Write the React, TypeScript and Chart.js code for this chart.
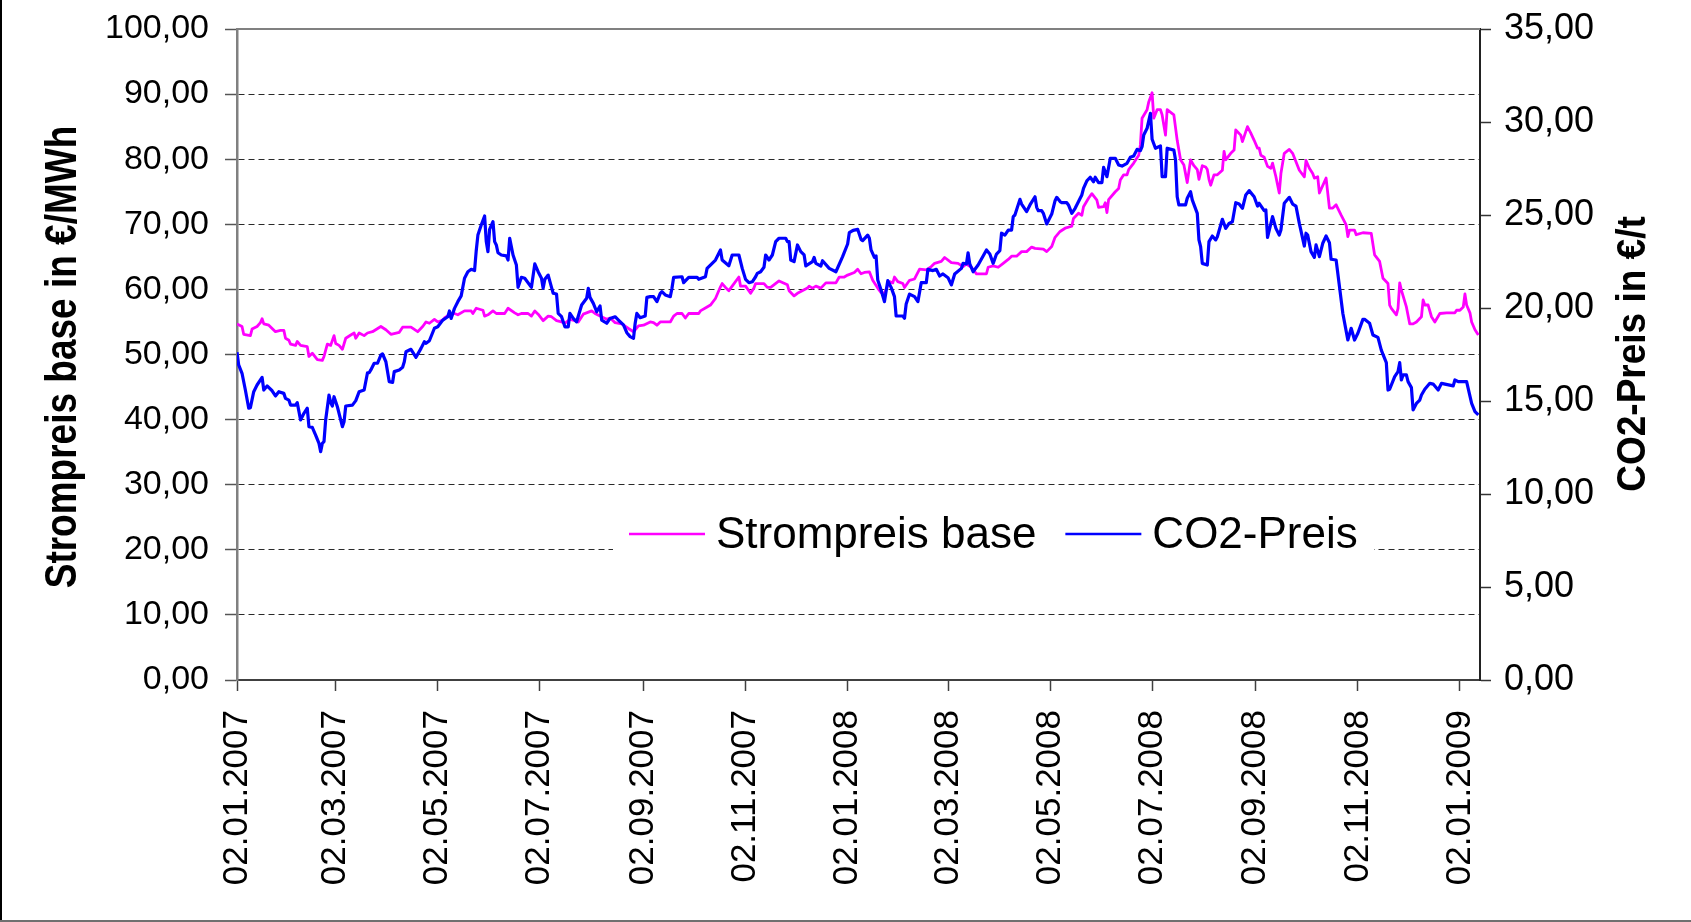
import React, { useEffect, useRef } from "react";
import { Chart, registerables } from "chart.js";

Chart.register(...registerables);

// Dates: tick labels on the x axis (dd.mm.yyyy) and the last day of the axis
const startDate = "02.01.2007";
const endDate = "14.01.2009";
const xTickLabels = [
  "02.01.2007", "02.03.2007", "02.05.2007", "02.07.2007", "02.09.2007", "02.11.2007",
  "02.01.2008", "02.03.2008", "02.05.2008", "02.07.2008", "02.09.2008", "02.11.2008",
  "02.01.2009",
];

// Strompreis base (€/MWh) — days after 02.01.2007 and prices
const stromDays = [
  0, 3, 4, 8, 9, 12, 14, 15, 16, 19, 23, 26, 28, 29, 31, 32, 35, 36, 38, 42,
  43, 45, 48, 51, 52, 54, 56, 58, 59, 61, 63, 65, 68, 70, 71, 73, 76, 78, 81, 86,
  89, 92, 97, 99, 104, 108, 111, 113, 115, 118, 120, 123,
  124, 127, 130, 132, 136, 140, 141, 143, 147, 148, 150, 153, 155, 160, 162, 166, 168, 170, 174, 176,
  178, 180, 183, 186, 188, 191, 194, 196, 199, 202, 204, 207, 212, 214, 217, 221, 223, 226, 230, 234,
  237, 240, 243, 247,
  249, 251, 253, 259, 261, 263, 266, 268, 270, 276, 277, 281, 283, 286, 289, 290, 292, 294, 296, 300,
  301, 304, 307, 309, 310, 315, 317, 319, 324, 329, 330, 333, 335, 341, 342, 344, 346, 349, 352, 358,
  360, 363, 365, 369,
  371, 373, 375, 378, 380, 383, 385, 387, 390, 392, 393, 395, 398, 399, 402, 405, 408, 412, 415, 417,
  421, 423, 427, 431, 434, 436, 439, 442, 448, 449, 452, 455, 458, 461, 463, 466, 469, 472, 475, 477,
  482, 484, 487, 489, 492,
  495, 499, 500, 503, 505, 506, 509, 511, 514, 515, 518, 519, 520, 521, 525, 527, 528, 530, 532, 533,
  536, 539, 540, 541, 544, 545, 547, 548, 550, 552, 553, 555, 556, 560, 562, 564, 566, 568, 570, 572,
  574, 575, 577, 579, 580, 581, 582, 584, 586, 589, 590, 591, 594, 596, 597, 600, 601, 604, 606, 608,
  610, 611, 612, 614,
  616, 618, 619, 621, 623, 624, 626, 629, 631, 633, 635, 638, 639, 641, 643, 644, 646, 647, 651, 653,
  655, 657, 660, 663, 664, 665, 668, 669, 673, 678, 680, 683, 685, 688, 689, 690, 693, 694, 695, 696,
  699, 701, 703, 705, 708, 709, 710, 712, 714, 716, 719, 723, 728, 729, 731, 733, 734, 735, 737, 738,
  740, 742,
];
const stromValues = [
  54.7, 54.3, 53.1, 52.9, 53.9, 54.3, 54.9, 55.5, 54.7, 54.5, 53.5, 53.7, 53.7, 52.5, 52.2, 51.6, 51.4, 52.0, 51.4, 51.2,
  49.7, 50.2, 49.2, 49.1, 49.7, 51.6, 51.4, 52.9, 51.7, 51.4, 50.8, 52.5, 53.0, 53.3, 52.5, 53.3, 52.9, 53.3, 53.5, 54.3,
  53.8, 53.1, 53.4, 54.2, 54.2, 53.5, 54.3, 55.0, 54.8, 55.4, 55.0, 55.3,
  55.6, 56.1, 56.3, 56.1, 56.7, 56.7, 56.3, 57.1, 56.8, 55.9, 56.1, 56.7, 56.3, 56.3, 57.1, 56.4, 56.1, 56.3, 56.3, 55.9,
  56.7, 56.2, 55.2, 55.9, 55.8, 55.2, 55.0, 54.8, 55.4, 55.2, 55.0, 56.2, 56.7, 56.3, 55.9, 55.4, 55.6, 54.9, 54.7, 54.0,
  53.5, 54.4, 54.5, 55.0,
  54.9, 54.5, 55.0, 55.0, 55.9, 56.3, 56.3, 55.6, 56.3, 56.3, 56.7, 57.3, 57.6, 58.6, 60.4, 60.9, 60.3, 59.8, 60.5, 61.9,
  60.5, 60.5, 59.4, 60.2, 60.9, 60.9, 60.3, 60.3, 61.3, 60.7, 59.8, 59.0, 59.4, 60.2, 60.5, 60.2, 60.5, 60.2, 61.0, 61.0,
  61.9, 61.9, 62.2, 62.6,
  63.1, 62.4, 62.6, 62.7, 61.4, 60.2, 59.5, 59.4, 61.2, 61.0, 61.9, 61.2, 60.9, 60.3, 61.4, 61.6, 63.1, 63.0, 63.5, 64.0,
  64.3, 64.9, 64.1, 64.0, 63.5, 63.9, 63.4, 62.4, 62.4, 63.4, 63.6, 63.4, 64.0, 64.6, 65.1, 65.1, 65.8, 65.8, 66.5, 66.3,
  66.2, 65.8, 66.6, 68.0, 68.9,
  69.4, 69.7, 70.9, 71.7, 71.4, 72.7, 74.0, 74.7, 73.7, 72.6, 72.7, 73.3, 71.8, 73.8, 75.0, 75.5, 76.8, 77.6, 77.6, 78.4,
  79.4, 80.6, 82.2, 86.3, 87.6, 88.8, 90.2, 86.3, 87.6, 87.6, 86.8, 83.7, 87.6, 86.8, 82.9, 79.9, 79.1, 76.4, 79.9, 79.0,
  78.4, 76.9, 79.0, 78.8, 78.4, 76.9, 76.0, 77.6, 77.6, 78.3, 81.2, 79.9, 80.9, 81.4, 84.5, 83.7, 82.7, 85.0, 84.0, 82.9,
  81.7, 81.7, 80.6, 80.3,
  78.9, 78.6, 79.4, 77.3, 74.8, 77.8, 80.9, 81.5, 80.9, 79.6, 78.3, 77.3, 79.8, 78.6, 77.8, 77.1, 77.3, 74.8, 77.1, 72.5,
  72.5, 73.0, 71.4, 69.9, 68.1, 69.1, 69.1, 68.4, 68.7, 68.6, 65.3, 64.3, 61.7, 60.9, 57.6, 57.1, 56.1, 57.1, 61.0, 59.9,
  57.3, 54.7, 54.7, 55.0, 55.8, 58.4, 57.6, 57.6, 55.8, 55.0, 56.3, 56.4, 56.4, 56.8, 56.8, 57.3, 59.3, 57.6, 56.4, 55.0,
  53.8, 53.0,
];

// CO2-Preis (€/t) — days after 02.01.2007 and prices
const co2Days = [
  0, 1, 3, 5, 7, 8, 10, 12, 15, 16, 18, 21, 23, 25, 28, 29, 31, 32, 35, 36,
  38, 40, 42, 43, 45, 47, 49, 50, 51, 52, 53, 55, 56, 57, 58, 60, 63, 64, 65, 69,
  71, 73, 76, 78, 79, 80, 82, 84, 86, 87, 89, 91, 93, 94, 97, 99, 100, 101, 104, 107,
  110, 112, 113, 115, 118, 120, 123,
  126, 127, 128, 130, 132, 134, 136, 138, 140, 142, 143, 144, 146, 148, 149, 150, 151, 153, 154, 155,
  156, 158, 161, 162, 163, 165, 167, 168, 170, 172, 176, 178, 180, 182, 183, 184, 186, 188, 189, 191,
  192, 194, 196, 198, 199, 201, 203, 206, 209, 210, 211, 213, 215, 217, 218, 221, 223, 226, 228, 231,
  233, 235, 237, 238, 239, 241, 244, 245, 247,
  249, 251, 253, 254, 256, 259, 260, 261, 266, 267, 270, 275, 276, 280, 281, 286, 289, 290, 294, 296,
  300, 302, 304, 306, 308, 310, 311, 313, 315, 316, 318, 320, 322, 324, 328, 329, 330, 331, 333, 335,
  337, 339, 340, 344, 345, 346, 349, 350, 354, 358, 362, 365, 366, 368, 369,
  371, 373, 374, 377, 378, 379, 381, 382, 383, 385, 387, 389, 391, 393, 394, 398, 399, 400, 402, 405,
  407, 409, 412, 413, 416, 418, 420, 422, 425, 427, 429, 433, 434, 436, 437, 438, 440, 443, 448, 450,
  452, 454, 456, 457, 459, 461, 463, 464, 465, 468, 469, 472, 474, 477, 478, 479, 481, 482, 484, 487,
  489, 490, 492,
  493, 496, 497, 499, 501, 504, 505, 506, 508, 510, 512, 513, 515, 517, 518, 520, 522, 525, 527, 529,
  532, 534, 536, 538, 540, 541, 542, 544, 546, 547, 549, 552, 553, 555, 556, 560, 561, 562, 563, 567,
  568, 570, 571, 574, 575, 576, 577, 580, 581, 583, 585, 586, 589, 591, 593, 595, 597, 599, 601, 603,
  605, 608, 610, 611, 614,
  615, 616, 619, 621, 623, 624, 626, 629, 631, 633, 635, 638, 639, 640, 642, 644, 645, 647, 649, 651,
  653, 654, 657, 659, 661, 664, 666, 668, 670, 673, 674, 677, 679, 682, 684, 687, 688, 689, 692, 694,
  695, 696, 697, 699, 700, 702, 703, 705, 707, 708, 710, 713, 715, 718, 720, 727, 728, 730, 735, 738,
  740, 742,
];
const co2Values = [
  17.62, 16.94, 16.49, 15.59, 14.61, 14.64, 15.5, 15.86, 16.27, 15.59, 15.81, 15.55, 15.27, 15.5, 15.41, 15.14, 15.05, 14.78, 14.78, 14.91,
  13.98, 14.34, 14.61, 13.62, 13.58, 13.17, 12.72, 12.28, 12.72, 12.81, 13.98, 15.32, 14.91, 14.73, 15.23, 14.69, 13.62, 13.89, 14.73, 14.78,
  15.02, 15.5, 15.59, 16.52, 16.52, 16.67, 17.03, 17.03, 17.47, 17.53, 17.11, 16.04, 16.0, 16.58, 16.67, 16.81, 17.11, 17.65, 17.78, 17.35,
  17.83, 18.19, 18.1, 18.24, 18.91, 18.99, 19.35,
  19.53, 19.84, 19.44, 19.98, 20.34, 20.65, 21.6, 21.95, 22.08, 22.01, 23.08, 23.92, 24.46, 24.95, 23.57, 23.03, 24.23, 24.64, 23.57, 23.39,
  22.97, 22.85, 22.8, 22.58, 23.75, 22.85, 22.31, 21.11, 21.65, 21.6, 21.11, 22.37, 21.95, 21.6, 21.06, 21.54, 21.77, 21.11, 20.79, 20.75,
  19.71, 19.53, 18.99, 18.99, 19.71, 19.44, 19.26, 20.16, 20.52, 21.06, 20.57, 20.25, 19.8, 20.11, 19.35, 19.18, 19.44, 19.53, 19.35, 19.09,
  18.67, 18.46, 18.37, 19.18, 19.71, 19.48, 19.57, 20.57, 20.61,
  20.61, 20.34, 20.79, 20.88, 20.7, 20.61, 21.06, 21.65, 21.68, 21.36, 21.65, 21.65, 21.54, 21.68, 22.13, 22.58, 23.12, 22.58, 22.27, 22.85,
  22.85, 22.13, 21.54, 21.36, 21.41, 21.68, 21.86, 21.95, 22.19, 22.85, 22.58, 22.85, 23.57, 23.75, 23.75, 23.57, 23.57, 22.58, 22.49, 23.39,
  23.03, 22.85, 22.26, 22.49, 22.72, 22.4, 22.26, 22.54, 22.13, 21.95, 22.76, 23.44, 24.05, 24.16, 24.19,
  24.23, 23.69, 23.62, 23.92, 23.75, 23.12, 22.72, 22.8, 21.51, 20.97, 20.34, 21.47, 21.11, 20.61, 19.57, 19.57, 19.45, 20.22, 20.75, 20.61,
  20.34, 21.36, 21.36, 22.08, 22.01, 22.08, 21.72, 21.83, 21.63, 21.24, 21.83, 22.13, 22.4, 22.37, 22.97, 22.37, 21.95, 22.31, 23.12, 22.9,
  22.4, 22.9, 23.08, 24.02, 23.92, 24.19, 24.19, 24.91, 25.0, 25.84, 25.59, 25.18, 25.54, 25.98, 25.41, 25.23, 25.23, 25.09, 24.52, 25.05,
  25.77, 25.95, 25.72,
  25.66, 25.66, 25.54, 25.09, 25.36, 25.9, 26.08, 26.43, 26.84, 27.03, 26.79, 27.03, 26.74, 26.74, 27.56, 27.06, 28.05, 28.05, 27.69, 27.63,
  27.78, 28.1, 28.17, 28.53, 28.46, 28.67, 29.3, 29.66, 30.47, 29.07, 28.59, 28.71, 27.06, 27.06, 28.59, 28.49, 27.96, 25.98, 25.54, 25.54,
  25.9, 26.25, 25.81, 25.09, 23.66, 23.3, 22.4, 22.31, 23.57, 23.87, 23.66, 23.83, 24.77, 24.28, 24.55, 24.64, 25.66, 25.59, 25.36, 26.08,
  26.31, 25.98, 25.48, 25.63, 25.23,
  25.27, 23.8, 24.91, 24.28, 23.92, 24.19, 25.63, 25.95, 25.59, 25.48, 24.55, 23.33, 24.02, 23.92, 23.03, 22.72, 23.39, 22.76, 23.48, 23.87,
  23.51, 22.62, 22.58, 21.15, 19.72, 18.28, 18.91, 18.28, 18.64, 19.39, 19.39, 19.18, 18.55, 18.42, 17.74, 17.06, 15.59, 15.63, 16.31, 16.58,
  17.06, 16.13, 16.4, 16.4, 16.04, 15.72, 14.52, 14.87, 15.05, 15.32, 15.63, 15.95, 15.91, 15.59, 15.95, 15.81, 16.13, 16.04, 16.04, 14.87,
  14.43, 14.25,
];

const seriesLabels = ["Strompreis base", "CO2-Preis"];
const leftTitle = "Strompreis base in €/MWh";
const rightTitle = "CO2-Preis in €/t";

const dayOf = (s: string) => {
  const [d, m, y] = s.split(".").map(Number);
  const [d0, m0, y0] = startDate.split(".").map(Number);
  return Math.round((Date.UTC(y, m - 1, d) - Date.UTC(y0, m0 - 1, d0)) / 86400000);
};
const fmt = (v: number) => Number(v).toFixed(2).replace(".", ",");

const FONT = "'Liberation Sans', Arial, Helvetica, sans-serif";
const MAGENTA = "#FF00FF";
const BLUE = "#0000FF";

const decorPlugin = {
  id: "decor",
  beforeDraw(chart: any) {
    const { ctx, width, height } = chart;
    ctx.save();
    ctx.fillStyle = "#ffffff";
    ctx.fillRect(0, 0, width, height);
    ctx.restore();
  },
  afterDatasetsDraw(chart: any) {
    const { ctx } = chart;
    // legend box (overlaid on the plot area)
    ctx.save();
    ctx.fillStyle = "#ffffff";
    ctx.fillRect(613, 503, 761, 62);
    ctx.font = `44px ${FONT}`;
    ctx.textBaseline = "alphabetic";
    ctx.textAlign = "left";
    const colors = [MAGENTA, BLUE];
    let x = 629;
    const lineY = 534;
    seriesLabels.forEach((lab, i) => {
      ctx.strokeStyle = colors[i];
      ctx.lineWidth = 2.5;
      ctx.beginPath();
      ctx.moveTo(x, lineY);
      ctx.lineTo(x + 76, lineY);
      ctx.stroke();
      x += 76 + 11;
      ctx.fillStyle = "#000";
      ctx.fillText(lab, x, 548);
      x += ctx.measureText(lab).width + 29;
    });
    ctx.restore();
  },
  afterDraw(chart: any) {
    const { ctx, chartArea, width, height } = chart;
    ctx.save();
    // top border of plot area
    ctx.strokeStyle = "#808080";
    ctx.lineWidth = 2;
    ctx.beginPath();
    ctx.moveTo(chartArea.left, chartArea.top);
    ctx.lineTo(chartArea.right, chartArea.top);
    ctx.stroke();

    // axis titles (rotated, reading bottom-to-top)
    ctx.fillStyle = "#000";
    ctx.textAlign = "center";
    ctx.textBaseline = "alphabetic";
    ctx.font = `bold 37px ${FONT}`;

    ctx.save();
    ctx.translate(76, 357);
    ctx.rotate(-Math.PI / 2);
    ctx.scale(1, 1.2);
    ctx.fillText(leftTitle, 0, 0);
    ctx.restore();

    ctx.save();
    ctx.translate(1645, 354);
    ctx.rotate(-Math.PI / 2);
    ctx.scale(1, 1.08);
    ctx.fillText(rightTitle, 0, 0);
    ctx.restore();

    // outer frame fragments (left and bottom edges)
    ctx.fillStyle = "#000";
    ctx.fillRect(0, 0, 2, height);
    ctx.fillStyle = "#707070";
    ctx.fillRect(0, height - 2, width, 2);
    ctx.restore();
  },
};

export default function App() {
  const canvasRef = useRef<HTMLCanvasElement | null>(null);

  useEffect(() => {
    const canvas = canvasRef.current;
    if (!canvas) return;
    Chart.defaults.font.family = FONT;
    Chart.defaults.color = "#000";
    const tickDays = xTickLabels.map(dayOf);
    const xMax = dayOf(endDate);

    const chart = new Chart(canvas, {
      type: "line",
      data: {
        datasets: [
          {
            label: seriesLabels[0],
            data: stromDays.map((d, i) => ({ x: d, y: stromValues[i] })),
            borderColor: MAGENTA,
            backgroundColor: MAGENTA,
            borderWidth: 2.8,
            pointRadius: 0,
            tension: 0,
            borderJoinStyle: "round",
            yAxisID: "y",
            order: 1,
          },
          {
            label: seriesLabels[1],
            data: co2Days.map((d, i) => ({ x: d, y: co2Values[i] })),
            borderColor: BLUE,
            backgroundColor: BLUE,
            borderWidth: 3.2,
            pointRadius: 0,
            tension: 0,
            borderJoinStyle: "round",
            yAxisID: "y2",
            order: 0,
          },
        ],
      },
      options: {
        responsive: false,
        maintainAspectRatio: false,
        animation: false,
        events: [],
        layout: { padding: { top: 29, left: 0, right: 0, bottom: 0 } },
        plugins: {
          legend: { display: false },
          tooltip: { enabled: false },
          title: { display: false },
        },
        scales: {
          x: {
            type: "linear",
            min: 0,
            max: xMax,
            afterBuildTicks: (s: any) => {
              s.ticks = tickDays.map((v) => ({ value: v }));
            },
            afterFit: (s: any) => {
              s.height = 242;
              s.paddingLeft = 0;
              s.paddingRight = 0;
            },
            ticks: {
              autoSkip: false,
              maxRotation: 90,
              minRotation: 90,
              padding: 19,
              color: "#000",
              font: { size: 35, family: FONT },
              callback: (_v: any, i: number) => xTickLabels[i],
            },
            grid: {
              drawOnChartArea: false,
              drawTicks: true,
              tickLength: 11,
              tickColor: "#404040",
              tickWidth: 1.5,
              tickBorderDash: [],
            },
            border: { display: true, color: "#404040", width: 2 },
          },
          y: {
            position: "left",
            min: 0,
            max: 100,
            afterFit: (s: any) => {
              s.width = 237;
              s.paddingTop = 0;
              s.paddingBottom = 0;
            },
            ticks: {
              stepSize: 10,
              padding: 16,
              color: "#000",
              font: { size: 34, family: FONT },
              callback: (v: any) => fmt(v),
            },
            grid: {
              color: (c: any) =>
                c.tick && (c.tick.value === 0 || c.tick.value === 100) ? "rgba(0,0,0,0)" : "#2a2a2a",
              lineWidth: 1,
              tickColor: "#555555",
              tickLength: 12,
              tickWidth: 1.5,
              tickBorderDash: [],
            },
            border: { display: true, color: "#808080", width: 2.5, dash: [6, 4] },
          },
          y2: {
            position: "right",
            min: 0,
            max: 35,
            afterFit: (s: any) => {
              s.width = 211;
              s.paddingTop = 0;
              s.paddingBottom = 0;
            },
            ticks: {
              stepSize: 5,
              padding: 13,
              color: "#000",
              font: { size: 36, family: FONT },
              callback: (v: any) => fmt(v),
            },
            grid: {
              drawOnChartArea: false,
              tickLength: 11,
              tickColor: "#333333",
              tickWidth: 1.5,
              tickBorderDash: [],
            },
            border: { display: true, color: "#222222", width: 2 },
          },
        },
      } as any,
      plugins: [decorPlugin],
    });

    return () => {
      chart.destroy();
    };
  }, []);

  return (
    <div
      style={{
        position: "fixed",
        left: 0,
        top: 0,
        width: 1691,
        height: 922,
        background: "#fff",
        overflow: "hidden",
      }}
    >
      <canvas ref={canvasRef} width={1691} height={922} style={{ display: "block", width: 1691, height: 922 }} />
    </div>
  );
}
